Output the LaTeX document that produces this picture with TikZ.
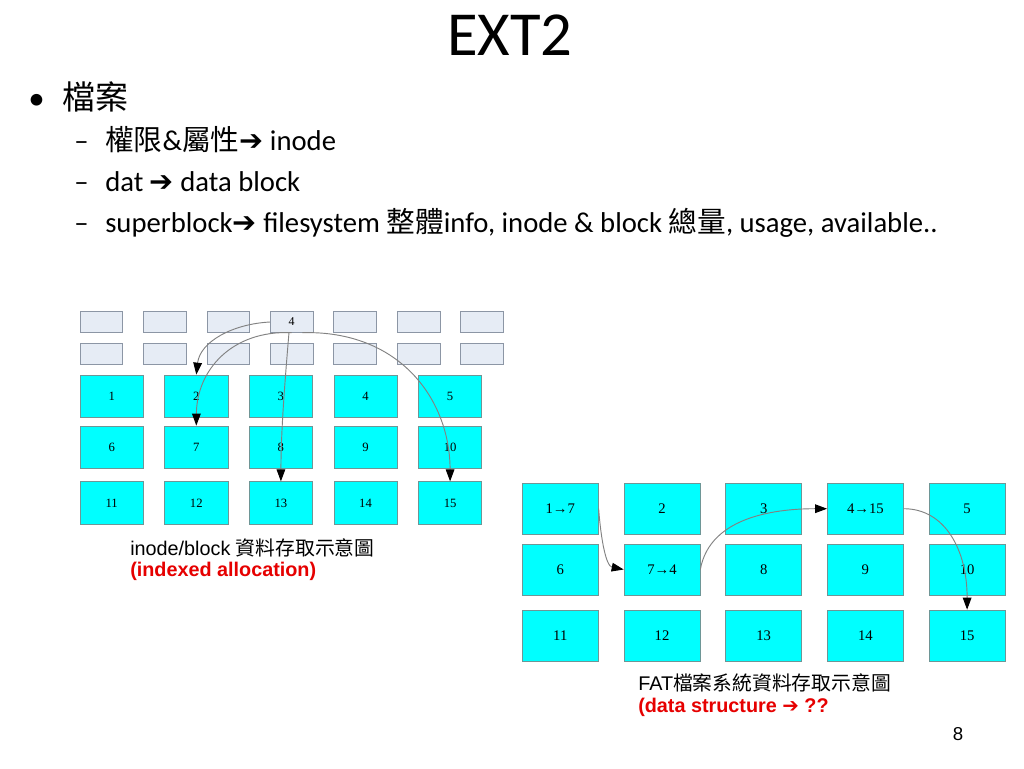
\documentclass[tikz,border=0pt]{standalone}
\usepackage{fontspec}
\setmainfont{Carlito}
\newfontfamily\cjk{Noto Sans CJK TC}
\newfontfamily\arialf{Liberation Sans}
\newfontfamily\tnrf{Liberation Serif}
\newfontfamily\symf{DejaVu Sans}
\usetikzlibrary{arrows.meta}
\definecolor{grayfill}{RGB}{230,236,245}
\definecolor{grayline}{RGB}{140,150,165}
\definecolor{cyanfill}{RGB}{0,255,255}
\definecolor{cyanline}{RGB}{110,150,150}
\definecolor{connline}{RGB}{130,130,130}
\definecolor{capred}{RGB}{230,0,0}
\begin{document}
\begin{tikzpicture}[x=0.75pt,y=-0.75pt,
  graybox/.style={draw=grayline,fill=grayfill,line width=0.5pt,minimum width=32pt,minimum height=15.5pt,inner sep=0pt,font=\tnrf\fontsize{9}{10}\selectfont},
  lbox/.style={draw=cyanline,fill=cyanfill,line width=0.5pt,minimum width=47.5pt,minimum height=32pt,inner sep=0pt,font=\tnrf\fontsize{9.5}{11}\selectfont},
  rbox/.style={draw=cyanline,fill=cyanfill,line width=0.5pt,minimum width=57pt,minimum height=38.25pt,inner sep=0pt,font=\tnrf\fontsize{11}{13}\selectfont},
  conn/.style={draw=connline,line width=0.7pt,-{Triangle[length=9pt,width=6.5pt,color=black]}},
  txt/.style={anchor=base west,inner sep=0pt},
  lvone/.style={txt,font=\fontsize{24.75}{28}\selectfont},
  lvtwo/.style={txt,font=\fontsize{21.5}{25}\selectfont},
  captext/.style={txt,font=\arialf\fontsize{14.85}{18}\selectfont},
  capbold/.style={txt,font=\arialf\bfseries\fontsize{14.85}{18}\selectfont,text=capred}]
\useasboundingbox[fill=white] (0,0) rectangle (1024,768);

% title and bullets
\node[anchor=base,inner sep=0pt,font=\fontsize{47}{52}\selectfont] (title) at (510,55) {EXT2};
\node[lvone] (b1) at (28,109.5) {•};
\node[lvone] (t1) at (62,109.5) {{\cjk 檔案}};
\node[lvtwo] (d2) at (74,150) {–};
\node[lvtwo] (t2) at (105,150) {{\cjk 權限}\&{\cjk 屬性}{\symf ➔} inode};
\node[lvtwo] (d3) at (74,191.5) {–};
\node[lvtwo] (t3) at (105,191.5) {dat {\symf ➔} data block};
\node[lvtwo] (d4) at (74,232.5) {–};
\node[lvtwo] (t4) at (105,232.5) {superblock{\symf ➔} filesystem {\cjk 整體}info, inode \& block {\cjk 總量}, usage, available..};

% left diagram: inode table
\foreach \i in {1,2,3,5,6,7} {
  \pgfmathsetmacro\xx{101.3+(\i-1)*63.45}
  \node[graybox] (ga\i) at (\xx,322) {};
}
\node[graybox] (ga4) at (291.65,322) {4};
\foreach \i in {1,...,7} {
  \pgfmathsetmacro\xx{101.3+(\i-1)*63.45}
  \node[graybox] (gb\i) at (\xx,353.8) {};
}
% left data blocks
\foreach \r/\yy in {0/396.3,1/447.3,2/503} {
  \foreach \c in {1,...,5} {
    \pgfmathtruncatemacro\n{\r*5+\c}
    \pgfmathsetmacro\xx{111.7+(\c-1)*84.6}
    \node[lbox] (L\n) at (\xx,\yy) {\n};
  }
}
\draw[conn] (ga4.west) .. controls (232,324) and (200,342) .. (L2.north);
\draw[conn] (ga4.south) .. controls (232,330) and (196.7,370) .. (L7.north);
\draw[conn] ([xshift=-2pt]ga4.south) .. controls (285,380) and (281,430) .. (L13.north);
\draw[conn] ([xshift=8pt]ga4.south) .. controls (400,330) and (450,400) .. (L15.north);

\node[captext] (c1) at (130,555) {inode/block {\cjk 資料存取示意圖}};
\node[capbold] (c2) at (130,576) {(indexed allocation)};

% right diagram: FAT
\foreach \n/\lab in {1/1→7,2/2,3/3,4/4→15,5/5,6/6,7/7→4,8/8,9/9,10/10,11/11,12/12,13/13,14/14,15/15} {
  \pgfmathtruncatemacro\cc{mod(\n-1,5)}
  \pgfmathtruncatemacro\rr{div(\n-1,5)}
  \pgfmathsetmacro\xx{560.3+\cc*101.7}
  \pgfmathsetmacro\yy{\rr==0 ? 508.7 : (\rr==1 ? 569.5 : 635.5)}
  \node[rbox] (R\n) at (\xx,\yy) {\lab};
}
\draw[conn] (R1.east) .. controls (601,540) and (606,566) .. (R7.west);
\draw[conn] (R7.east) .. controls (710,515) and (780,508.7) .. (R4.west);
\draw[conn] (R4.east) .. controls (945,508.7) and (967.2,550) .. (R15.north);

\node[captext] (c3) at (638,690) {FAT{\cjk 檔案系統資料存取示意圖}};
\node[capbold] (c4) at (638,712) {(data structure {\symf\bfseries ➔} ??};

\node[anchor=base,inner sep=0pt,font=\arialf\fontsize{14}{16}\selectfont] (pg) at (958,740) {8};
\end{tikzpicture}
\end{document}
